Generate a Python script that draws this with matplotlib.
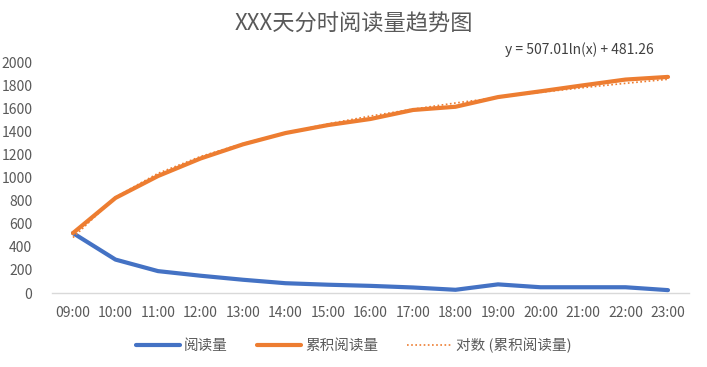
import numpy as np
import matplotlib
matplotlib.use("Agg")
import matplotlib.pyplot as plt

plt.rcParams['font.family'] = ['Noto Sans CJK SC', 'DejaVu Sans']

# Data
hours = ["09:00", "10:00", "11:00", "12:00", "13:00", "14:00", "15:00", "16:00",
         "17:00", "18:00", "19:00", "20:00", "21:00", "22:00", "23:00"]
reads = [520, 290, 190, 150, 115, 85, 72, 62, 48, 28, 75, 50, 50, 50, 25]
cum_reads = [520, 825, 1015, 1167, 1290, 1388, 1457, 1510, 1588, 1616, 1700, 1750, 1802, 1852, 1875]

# Excel logarithmic trendline: y = 507.01ln(x) + 481.26
coef_a = 507.01
coef_b = 481.26

blue = "#4472C4"
orange = "#ED7D31"
text_col = "#595959"

fig = plt.figure(figsize=(7.07, 3.67), dpi=100)
ax = fig.add_axes([0.0732, 0.2016, 0.9017, 0.6281])

x = np.arange(len(hours))
trend = coef_a * np.log(x + 1) + coef_b

ax.plot(x, reads, color=blue, lw=3, solid_capstyle='round', label="阅读量", zorder=3)
ax.plot(x, cum_reads, color=orange, lw=3, solid_capstyle='round', label="累积阅读量", zorder=3)
ax.plot(x, trend, color=orange, lw=1.2, linestyle=(0, (1, 1.5)), label="对数 (累积阅读量)", zorder=4)

ax.set_xlim(-0.5, len(hours) - 0.5)
ax.set_ylim(0, 2000)
ax.set_yticks(range(0, 2001, 200))
ax.set_xticks(x)
ax.set_xticklabels(hours)

for side in ["top", "right", "left"]:
    ax.spines[side].set_visible(False)
ax.spines["bottom"].set_color("#d9d9d9")
ax.spines["bottom"].set_linewidth(1)
ax.tick_params(axis="both", length=0, labelsize=10, colors=text_col)
ax.tick_params(axis="x", pad=9)
ax.tick_params(axis="y", pad=14)

fig.text(0.5, 0.935, "XXX天分时阅读量趋势图", ha="center", va="center",
         fontsize=16, color=text_col)
fig.text(0.82, 0.865, "y = 507.01ln(x) + 481.26", ha="center", va="center",
         fontsize=10, color="#404040")

fig.legend(loc="center", bbox_to_anchor=(0.5, 0.06), ncol=3, frameon=False,
           fontsize=10.5, labelcolor=text_col, handlelength=3.0, columnspacing=2.0,
           handletextpad=0.3)

fig.savefig("out.png", dpi=100)
